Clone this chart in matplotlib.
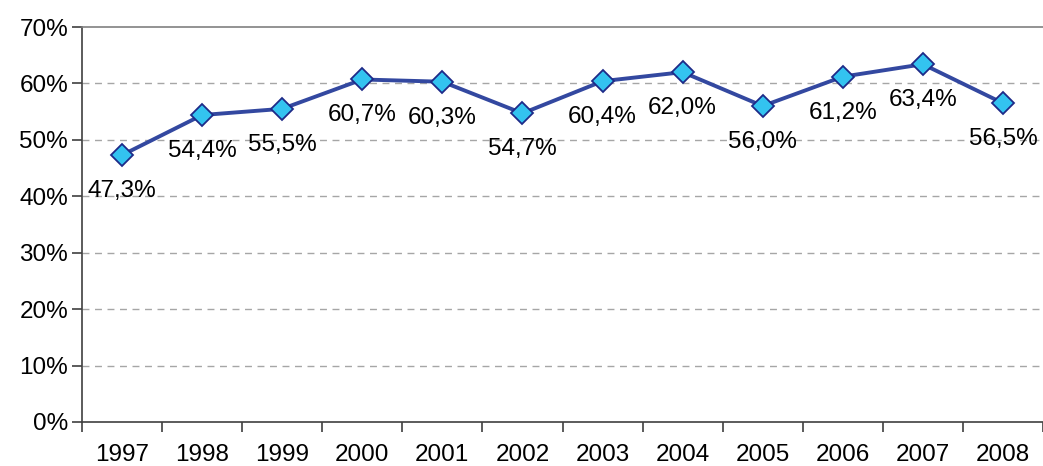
import matplotlib.pyplot as plt
import numpy as np

plt.rcParams['font.family'] = ['Liberation Sans', 'DejaVu Sans']

years = ['1997', '1998', '1999', '2000', '2001', '2002',
         '2003', '2004', '2005', '2006', '2007', '2008']
share = [47.3, 54.4, 55.5, 60.7, 60.3, 54.7, 60.4, 62.0, 56.0, 61.2, 63.4, 56.5]

fig = plt.figure(figsize=(10.43, 4.66), dpi=100)
ax = fig.add_axes([82/1043, 44/466, 1 - 82/1043, 395/466])

x = np.arange(len(years))
ax.plot(x, share, color='#3348A0', lw=2.8, marker='D', ms=11,
        markerfacecolor='#33C3F0', markeredgecolor='#1E2A88', markeredgewidth=1.3, zorder=3)

for xi, v in zip(x, share):
    ax.annotate(f'{v:.1f}%'.replace('.', ','), (xi, v), xytext=(0, -36),
                textcoords='offset pixels', ha='center', va='center', fontsize=17.5)

ax.set_xlim(-0.5, len(years) - 0.5)
ax.set_ylim(0, 70)
ax.set_yticks(range(0, 71, 10))
ax.set_yticklabels([f'{t}%' for t in range(0, 71, 10)], fontsize=17.5)
ax.set_xticks(x)
ax.set_xticklabels(years, fontsize=17.5)
ax.set_xticks(np.arange(-0.5, len(years), 1), minor=True)
ax.tick_params(axis='x', which='major', length=0, pad=16)
ax.tick_params(axis='x', which='minor', length=7, color='#404040', width=1.2, direction='out')
ax.tick_params(axis='y', length=7, color='#404040', width=1.2, pad=3)

for t in range(10, 70, 10):
    ax.axhline(t, color='#A6A6A6', lw=1, ls=(0, (5, 4)), zorder=1)

ax.spines['left'].set_color('#404040')
ax.spines['bottom'].set_color('#404040')
ax.spines['left'].set_linewidth(1.2)
ax.spines['bottom'].set_linewidth(1.2)
ax.spines['top'].set_color('#808080')
ax.spines['top'].set_linewidth(1.2)
ax.spines['right'].set_visible(False)

fig.savefig('out.png', dpi=100)
